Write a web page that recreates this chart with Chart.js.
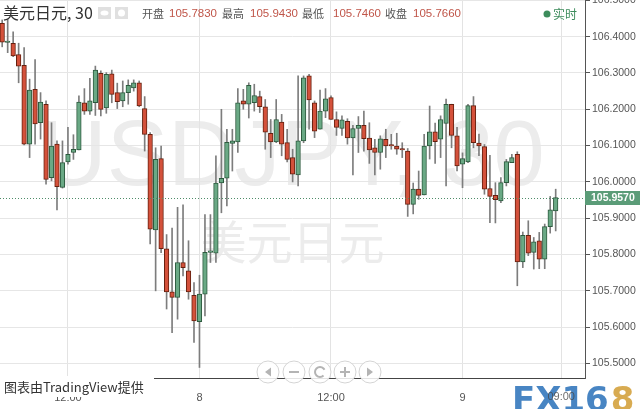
<!DOCTYPE html>
<html>
<head>
<meta charset="utf-8">
<script src="https://cdn.jsdelivr.net/npm/chart.js@4.4.1/dist/chart.umd.min.js"></script>
<style>
  html, body { margin: 0; padding: 0; background: #fff; }
  #wrap { position: relative; width: 640px; height: 409px; }
</style>
</head>
<body>
<div id="wrap"><canvas id="candleChart" width="640" height="409"></canvas></div>
<script>
'use strict';

/* 30 min candles, first one is the 7th 06:00 */
var openVals = [
	106.437, 106.384, 106.382, 106.351, 106.321, 106.104, 106.255, 106.163, 106.214, 106.012,
	106.104, 105.985, 106.055, 106.081, 106.088, 106.218, 106.195, 106.218, 106.299, 106.204,
	106.298, 106.246, 106.223, 106.246, 106.259, 106.273, 106.202, 106.131, 105.868, 106.064,
	105.816, 105.697, 105.682, 105.778, 105.755, 105.688, 105.615, 105.691, 105.806, 105.804,
	105.997, 106.010, 106.106, 106.110, 106.223, 106.214, 106.218, 106.235, 106.207, 106.134,
	106.110, 106.165, 106.108, 106.067, 106.019, 106.113, 106.292, 106.218, 106.145, 106.195,
	106.232, 106.172, 106.147, 106.167, 106.121, 106.147, 106.156, 106.121, 106.094, 106.081,
	106.117, 106.100, 106.099, 106.089, 106.085, 105.938, 105.980, 105.964, 106.099, 106.138,
	106.118, 106.161, 106.214, 106.127, 106.049, 106.055, 106.210, 106.107, 106.097, 105.982,
	105.963, 105.948, 105.998, 106.053, 106.076, 105.780, 105.853, 105.806, 105.838, 105.787,
	105.877, 105.920
];
var highVals = [
	106.446, 106.448, 106.413, 106.382, 106.370, 106.283, 106.337, 106.246, 106.223, 106.163,
	106.113, 106.113, 106.150, 106.130, 106.237, 106.257, 106.285, 106.319, 106.306, 106.301,
	106.308, 106.272, 106.278, 106.281, 106.281, 106.278, 106.235, 106.136, 106.094, 106.099,
	105.855, 105.873, 105.930, 105.937, 105.838, 105.723, 105.743, 105.910, 105.910, 106.072,
	106.200, 106.145, 106.145, 106.257, 106.255, 106.273, 106.269, 106.250, 106.227, 106.172,
	106.227, 106.186, 106.145, 106.090, 106.292, 106.292, 106.296, 106.223, 106.253, 106.257,
	106.237, 106.193, 106.182, 106.174, 106.156, 106.180, 106.195, 106.163, 106.117, 106.127,
	106.145, 106.131, 106.134, 106.108, 106.092, 105.997, 106.030, 106.131, 106.209, 106.162,
	106.182, 106.228, 106.214, 106.150, 106.080, 106.214, 106.235, 106.132, 106.103, 106.073,
	105.998, 106.012, 106.062, 106.076, 106.083, 105.862, 105.893, 105.847, 105.861, 105.884,
	105.960, 105.980
];
var lowVals = [
	106.372, 106.356, 106.345, 106.273, 106.102, 106.067, 106.104, 106.118, 105.994, 106.003,
	105.923, 105.983, 106.049, 106.062, 106.088, 106.186, 106.186, 106.183, 106.182, 106.189,
	106.218, 106.202, 106.207, 106.214, 106.250, 106.207, 106.085, 105.829, 105.700, 105.805,
	105.650, 105.585, 105.622, 105.741, 105.677, 105.558, 105.489, 105.631, 105.778, 105.778,
	105.915, 105.934, 106.030, 106.081, 106.200, 106.176, 106.195, 106.191, 106.090, 106.067,
	106.108, 106.072, 106.055, 106.000, 105.989, 106.108, 106.145, 106.122, 106.145, 106.177,
	106.172, 106.128, 106.128, 106.104, 106.019, 106.081, 106.085, 106.051, 106.019, 106.035,
	106.067, 106.090, 106.076, 106.067, 105.905, 105.912, 105.952, 105.964, 106.063, 106.051,
	106.067, 105.989, 106.094, 106.030, 105.984, 106.053, 106.094, 106.072, 105.966, 105.888,
	105.887, 105.943, 105.989, 106.053, 105.714, 105.764, 105.797, 105.760, 105.761, 105.761,
	105.859, 105.865
];
var closeVals = [
	106.385, 106.386, 106.347, 106.319, 106.104, 106.253, 106.160, 106.220, 106.007, 106.099,
	105.987, 106.053, 106.076, 106.090, 106.220, 106.195, 106.223, 106.308, 106.200, 106.296,
	106.241, 106.221, 106.246, 106.266, 106.273, 106.209, 106.131, 105.870, 106.062, 105.816,
	105.697, 105.682, 105.778, 105.764, 105.697, 105.617, 105.691, 105.806, 105.808, 105.997,
	106.010, 106.109, 106.113, 106.218, 106.214, 106.266, 106.238, 106.207, 106.137, 106.110,
	106.172, 106.104, 106.062, 106.021, 106.113, 106.287, 106.226, 106.140, 106.195, 106.229,
	106.172, 106.150, 106.171, 106.121, 106.147, 106.156, 106.119, 106.088, 106.081, 106.119,
	106.099, 106.099, 106.090, 106.088, 105.938, 105.980, 105.963, 106.099, 106.138, 106.111,
	106.172, 106.214, 106.128, 106.044, 106.064, 106.210, 106.108, 106.099, 105.980, 105.960,
	105.951, 105.998, 106.056, 106.067, 105.780, 105.853, 105.804, 105.835, 105.787, 105.877,
	105.923, 105.957
];

/* x axis: candle slot index -> label */
var tickIndex = [12, 36, 60, 84, 102];
var tickLabels = ['12:00', '8', '12:00', '9', '09:00'];
var priceTicks = [105.5, 105.6, 105.7, 105.8, 105.9, 106.0, 106.1, 106.2, 106.3, 106.4, 106.5];

var lastPrice = closeVals[closeVals.length - 1];
var headerLabels = ['开盘', '最高', '最低', '收盘'];
var headerValues = ['105.7830', '105.9430', '105.7460', '105.7660'];

var UP_FILL = '#6aa985', UP_LINE = '#2d5a3e';
var DOWN_FILL = '#d4513b', DOWN_LINE = '#66200f';

function isUp(i) {
	return closeVals[i] >= openVals[i];
}

/* watermark, header, footer bits */
var decor = {
	id: 'decor',
	beforeDraw: function (chart) {
		var ctx = chart.ctx;
		var area = chart.chartArea;
		var mid = (area.left + area.right) / 2;
		ctx.save();
		ctx.fillStyle = '#ececec';
		ctx.textAlign = 'center';
		ctx.textBaseline = 'middle';
		ctx.font = '92px "Liberation Sans"';
		ctx.fillText('USDJPY, 30', mid, 160);
		ctx.font = '46px "Noto Sans CJK SC"';
		ctx.fillText('美元日元', mid, 242);
		ctx.restore();
	},
	afterDraw: function (chart) {
		var ctx = chart.ctx;
		var area = chart.chartArea;
		var y = Math.round(chart.scales.y.getPixelForValue(lastPrice));
		ctx.save();

		/* FX168 logo, under the last axis label */
		ctx.font = 'bold 34px "DejaVu Sans"';
		ctx.textBaseline = 'alphabetic';
		ctx.fillStyle = 'rgba(52,120,188,0.9)';
		ctx.fillText('FX16', 512, 411);
		ctx.fillStyle = 'rgba(214,166,72,0.95)';
		ctx.fillText('8', 512 + ctx.measureText('FX16').width + 2, 411);
		ctx.fillStyle = 'rgba(70,70,70,0.8)';
		ctx.font = '11px "Liberation Sans"';
		ctx.textAlign = 'center';
		ctx.textBaseline = 'middle';
		ctx.fillText(tickLabels[4], chart.scales.x.getPixelForValue(tickIndex[4]), 397);
		ctx.textAlign = 'left';

		/* last price line and tag */
		ctx.strokeStyle = '#4f8d69';
		ctx.lineWidth = 1;
		ctx.setLineDash([1, 2]);
		ctx.beginPath();
		ctx.moveTo(area.left, y + 0.5);
		ctx.lineTo(area.right, y + 0.5);
		ctx.stroke();
		ctx.setLineDash([]);
		ctx.fillStyle = '#5b9c78';
		ctx.fillRect(area.right, y - 7, 55, 14);
		ctx.fillStyle = '#fff';
		ctx.font = 'bold 10.5px "Liberation Sans"';
		ctx.fillText(lastPrice.toFixed(4), area.right + 6, y + 0.5);

		/* header */
		ctx.fillStyle = '#333';
		ctx.font = '16px "Noto Sans CJK SC"';
		ctx.fillText('美元日元, 30', 3, 13);
		ctx.fillStyle = '#e0e0e0';
		ctx.fillRect(98, 7, 13, 12);
		ctx.fillRect(115, 7, 13, 12);
		ctx.fillStyle = '#fff';
		ctx.beginPath();
		ctx.ellipse(104.5, 13, 4, 2.5, 0, 0, Math.PI * 2);
		ctx.fill();
		ctx.beginPath();
		ctx.arc(121.5, 13, 3.5, 0, Math.PI * 2);
		ctx.fill();

		var labelX = [142, 222, 302, 385];
		var valueX = [169, 250, 333, 413];
		for (var i = 0; i < headerLabels.length; i++) {
			ctx.fillStyle = '#555';
			ctx.font = '11px "Noto Sans CJK SC"';
			ctx.fillText(headerLabels[i], labelX[i], 14);
			ctx.fillStyle = '#c0564a';
			ctx.font = '11.5px "Liberation Sans"';
			ctx.fillText(headerValues[i], valueX[i], 14);
		}
		ctx.fillStyle = '#3d8c5c';
		ctx.beginPath();
		ctx.arc(547, 14, 3.5, 0, Math.PI * 2);
		ctx.fill();
		ctx.font = '12px "Noto Sans CJK SC"';
		ctx.fillText('实时', 553, 14);

		/* zoom / scroll buttons */
		var btnX = [268, 294, 320, 345, 370];
		var btnY = 372;
		ctx.lineWidth = 1;
		for (var b = 0; b < btnX.length; b++) {
			ctx.fillStyle = 'rgba(255,255,255,0.85)';
			ctx.strokeStyle = '#d4d4d4';
			ctx.beginPath();
			ctx.arc(btnX[b], btnY, 11, 0, Math.PI * 2);
			ctx.fill();
			ctx.stroke();
		}
		ctx.fillStyle = '#b4b4b4';
		ctx.strokeStyle = '#b4b4b4';
		ctx.lineWidth = 2;
		ctx.beginPath();
		ctx.moveTo(265, btnY);
		ctx.lineTo(271, btnY - 4.5);
		ctx.lineTo(271, btnY + 4.5);
		ctx.fill();
		ctx.beginPath();
		ctx.moveTo(373, btnY);
		ctx.lineTo(367, btnY - 4.5);
		ctx.lineTo(367, btnY + 4.5);
		ctx.fill();
		ctx.beginPath();
		ctx.moveTo(289, btnY);
		ctx.lineTo(299, btnY);
		ctx.moveTo(340, btnY);
		ctx.lineTo(350, btnY);
		ctx.moveTo(345, btnY - 5);
		ctx.lineTo(345, btnY + 5);
		ctx.stroke();
		ctx.beginPath();
		ctx.arc(320, btnY, 5, Math.PI * 0.25, Math.PI * 1.85);
		ctx.stroke();

		/* credit text over the axis */
		ctx.fillStyle = '#fff';
		ctx.fillRect(0, 376, 154, 21);
		ctx.fillStyle = '#333';
		ctx.font = '13px "Noto Sans CJK SC"';
		ctx.fillText('图表由TradingView提供', 4, 387);
		ctx.restore();
	}
};

var chartCtx = document.getElementById('candleChart').getContext('2d');
var chart = new Chart(chartCtx, {
	type: 'bar',
	data: {
		datasets: [{
			label: 'body',
			data: openVals.map(function (o, i) { return { x: i, y: [o, closeVals[i]] }; }),
			backgroundColor: function (c) { return isUp(c.dataIndex) ? UP_FILL : DOWN_FILL; },
			borderColor: function (c) { return isUp(c.dataIndex) ? UP_LINE : DOWN_LINE; },
			borderWidth: 1,
			borderSkipped: false,
			barThickness: 4.6,
			minBarLength: 1.5,
			grouped: false,
			order: 0
		}, {
			label: 'wick',
			data: lowVals.map(function (l, i) { return { x: i, y: [l, highVals[i]] }; }),
			backgroundColor: '#7d7d7d',
			borderWidth: 0,
			barThickness: 1,
			grouped: false,
			order: 1
		}]
	},
	options: {
		responsive: false,
		animation: false,
		events: [],
		layout: { padding: 0 },
		plugins: {
			legend: { display: false },
			tooltip: { enabled: false }
		},
		scales: {
			x: {
				type: 'linear',
				min: -0.4,
				max: 106.35,
				offset: false,
				afterBuildTicks: function (s) {
					s.ticks = tickIndex.map(function (v) { return { value: v }; });
				},
				afterFit: function (s) {
					s.height = 31;
					s.paddingLeft = 0;
					s.paddingRight = 0;
				},
				ticks: {
					autoSkip: false,
					maxRotation: 0,
					padding: 13,
					color: '#555',
					font: { family: 'Liberation Sans', size: 11 },
					callback: function (v, i) { return i === 4 ? '' : tickLabels[i]; }
				},
				grid: { color: '#e3e3e3', drawTicks: false, offset: false },
				border: { color: '#444' }
			},
			y: {
				position: 'right',
				min: 105.46,
				max: 106.501,
				afterBuildTicks: function (s) {
					s.ticks = priceTicks.map(function (v) { return { value: v }; });
				},
				afterFit: function (s) {
					s.width = 55;
					s.paddingTop = 0;
					s.paddingBottom = 0;
				},
				ticks: {
					padding: 2,
					color: '#555',
					font: { family: 'Liberation Sans', size: 10.5 },
					callback: function (v) { return Number(v).toFixed(4); }
				},
				grid: { color: '#e6e6e6', tickColor: '#555', tickLength: 5 },
				border: { color: '#555' }
			}
		}
	},
	plugins: [decor]
});
</script>
</body>
</html>
